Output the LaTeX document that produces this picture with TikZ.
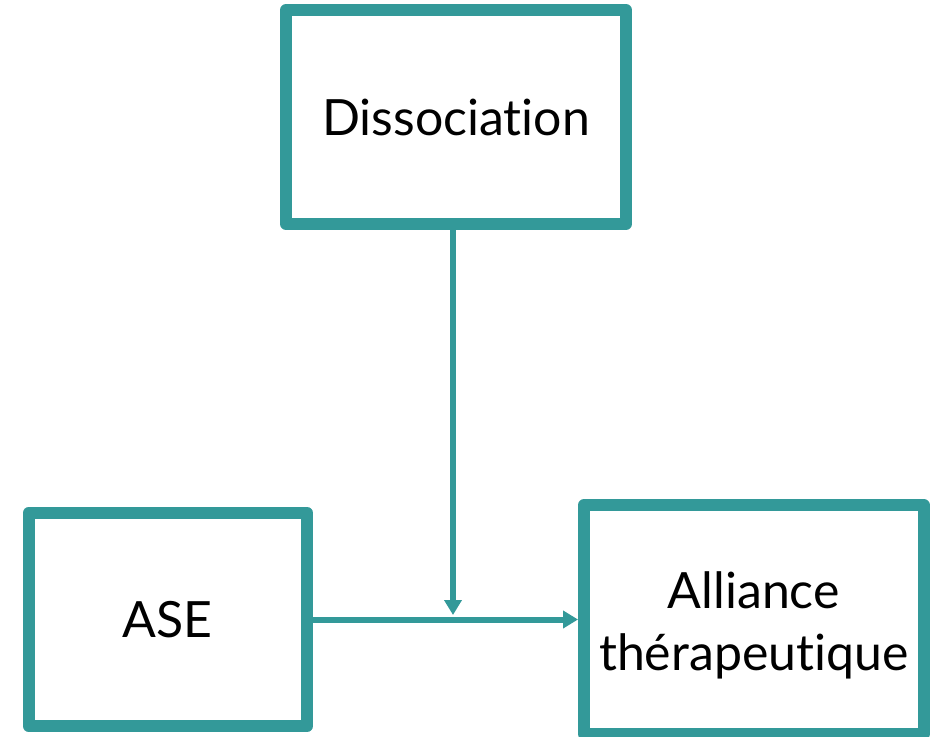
\documentclass[tikz,border=0pt]{standalone}
\usepackage{fontspec}
\setmainfont{Lato}[Ligatures={NoCommon,NoContextual,NoRequired}]
\usetikzlibrary{arrows.meta}
\definecolor{teal1}{RGB}{51,153,153}
\tikzset{
  box/.style={draw=teal1, line width=12pt, line join=round, fill=white,
    inner sep=0pt, align=center, font=\fontsize{50}{62.4}\selectfont},
  conn/.style={draw=teal1, line width=6pt, -{Triangle[length=15pt,width=17pt]}}
}
\begin{document}
\begin{tikzpicture}[x=1pt,y=-1pt]
\useasboundingbox (0,0) rectangle (934,736);
\node[box, minimum width=340pt, minimum height=214pt] (diss) at (456,117) {Dissociation};
\node[box, minimum width=278.5pt, minimum height=213pt] (ase) at (167.8,619.5) {ASE};
\node[box, minimum width=339.5pt, minimum height=229pt] (all) at (753.8,619.5) {\rule{0pt}{48pt}Alliance\\thérapeutique};
\coordinate (m) at (453,615);
\draw[conn] (ase) -- (all);
\draw[conn] (m |- diss.south) -- (m);
\end{tikzpicture}
\end{document}
